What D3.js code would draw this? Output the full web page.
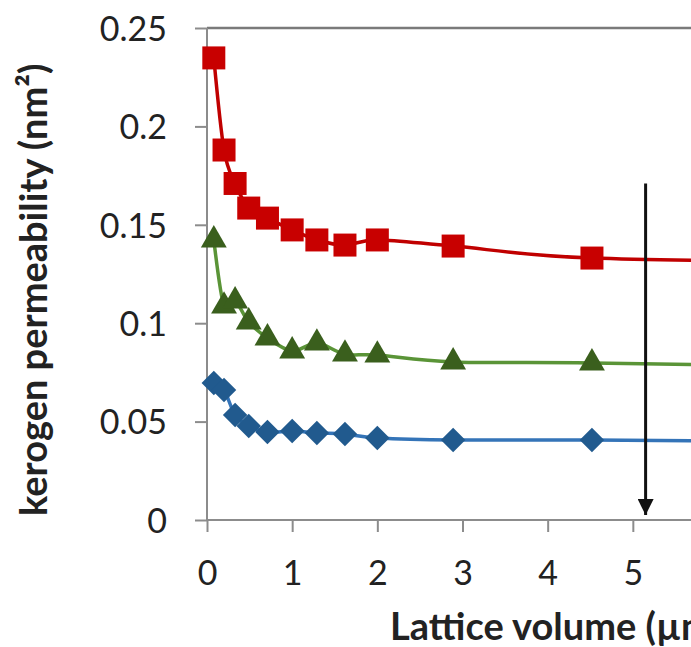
<!DOCTYPE html>
<html>
<head>
<meta charset="utf-8">
<script src="https://cdn.jsdelivr.net/npm/d3@7"></script>
<style>
    body { margin: 0; background: #fff; }
    svg { display: block; font-family: Lato, "Open Sans", sans-serif; }
</style>
</head>
<body>
<svg id="chart" width="691" height="647"></svg>
<script>
/**
 * Data.
 */
const latticeVolume = [0.08, 0.2, 0.33, 0.49, 0.71, 1.0, 1.29, 1.62, 2.0, 2.89, 4.52, 8.0];
const redSeries = [0.2348, 0.188, 0.171, 0.1585, 0.1534, 0.1474, 0.1423, 0.1397, 0.1423, 0.1392, 0.1331, 0.1310];
const greenSeries = [0.1423, 0.1087, 0.1113, 0.1006, 0.0925, 0.0859, 0.0899, 0.0843, 0.0838, 0.0803, 0.0798, 0.0775];
const blueSeries = [0.0696, 0.0661, 0.0534, 0.0478, 0.0447, 0.0452, 0.0442, 0.0437, 0.0417, 0.0407, 0.0407, 0.0395];
const yTicks = [0, 0.05, 0.1, 0.15, 0.2, 0.25];
const xTicks = [0, 1, 2, 3, 4, 5];
const arrowX = 5.15, arrowFrom = 0.171, arrowTo = 0.0025;

/**
 * Visual configs.
 */
const width = 691, height = 647;
const axisColor = '#8c8c8c',
    tickSize = 12,
    fontSize = 34,
    titleSize = 38;

const series = [
    { values: redSeries, line: '#c00000', fill: '#c80000', symbol: d3.symbolSquare, size: 23 * 23, rotate: 0 },
    { values: greenSeries, line: '#5a9437', fill: '#3a5f1d', symbol: d3.symbolTriangle, size: 290, rotate: 0 },
    { values: blueSeries, line: '#3474b8', fill: '#215a8e', symbol: d3.symbolSquare, size: 300, rotate: 45 }
];

/**
 * D3.
 */
const xScale = d3.scaleLinear().domain([0, 6]).range([207, 718]),
    yScale = d3.scaleLinear().domain([0, 0.25]).range([520, 28]);

const svg = d3.select('#chart');

// Plot area top border
svg.append('line')
    .attr('x1', xScale(0)).attr('x2', width)
    .attr('y1', yScale(0.25)).attr('y2', yScale(0.25))
    .attr('stroke', '#7a7a7a').attr('stroke-width', 2.5);

// Y axis
const yAxis = svg.append('g').attr('transform', 'translate(' + xScale(0) + ',0)')
    .call(d3.axisLeft(yScale).tickValues(yTicks).tickSize(tickSize)
        .tickFormat(d => d === 0 ? '0' : String(+d.toFixed(2))));
// X axis
const xAxis = svg.append('g').attr('transform', 'translate(0,' + yScale(0) + ')')
    .call(d3.axisBottom(xScale).tickValues(xTicks).tickSize(tickSize)
        .tickFormat(d3.format('d')));

[yAxis, xAxis].forEach(a => {
    a.select('.domain').attr('stroke', axisColor).attr('stroke-width', 2);
    a.selectAll('.tick line').attr('stroke', axisColor).attr('stroke-width', 2);
    a.selectAll('.tick text')
        .attr('fill', '#222')
        .style('font-family', 'Lato, sans-serif')
        .style('font-size', fontSize + 'px');
});
yAxis.select('.domain').attr('d', 'M0,' + yScale(0) + 'V' + yScale(0.25));
xAxis.select('.domain').attr('d', 'M' + xScale(0) + ',0H' + width);
yAxis.selectAll('.tick text').attr('x', -40).attr('dy', '0.36em');
xAxis.selectAll('.tick text').attr('y', 41).attr('dy', '0.71em');

// Series
const line = d3.line()
    .x((d, i) => xScale(latticeVolume[i]))
    .y(d => yScale(d))
    .curve(d3.curveCardinal.tension(0));

series.forEach(s => {
    const g = svg.append('g');
    g.append('path')
        .attr('d', line(s.values))
        .attr('fill', 'none')
        .attr('stroke', s.line)
        .attr('stroke-width', 3.5);
    g.selectAll('path.marker').data(s.values).enter().append('path')
        .attr('class', 'marker')
        .attr('transform', (d, i) => 'translate(' + xScale(latticeVolume[i]) + ',' + yScale(d) + ') rotate(' + s.rotate + ')')
        .attr('d', d3.symbol().type(s.symbol).size(s.size))
        .attr('fill', s.fill);
});

// Arrow
const defs = svg.append('defs');
defs.append('marker')
    .attr('id', 'arrowhead')
    .attr('viewBox', '0 0 10 10')
    .attr('refX', 10).attr('refY', 5)
    .attr('markerUnits', 'userSpaceOnUse')
    .attr('markerWidth', 16).attr('markerHeight', 16)
    .attr('orient', 'auto')
  .append('path')
    .attr('d', 'M0,0L10,5L0,10Z')
    .attr('fill', '#111');
svg.append('line')
    .attr('x1', xScale(arrowX)).attr('x2', xScale(arrowX))
    .attr('y1', yScale(arrowFrom)).attr('y2', yScale(arrowTo))
    .attr('stroke', '#111').attr('stroke-width', 3)
    .attr('marker-end', 'url(#arrowhead)');

// Axis titles (the x title runs past the right edge, as in the reference)
svg.append('text')
    .attr('x', 390).attr('y', 640)
    .attr('fill', '#222')
    .style('font-weight', 'bold').style('font-size', titleSize + 'px')
    .text('Lattice volume (µm³)');

svg.append('text')
    .attr('transform', 'translate(47,' + yScale(0.117) + ') rotate(-90)')
    .attr('text-anchor', 'middle')
    .attr('fill', '#222')
    .style('font-weight', 'bold').style('font-size', titleSize + 'px')
    .text('kerogen permeability (nm²)');
</script>
</body>
</html>
